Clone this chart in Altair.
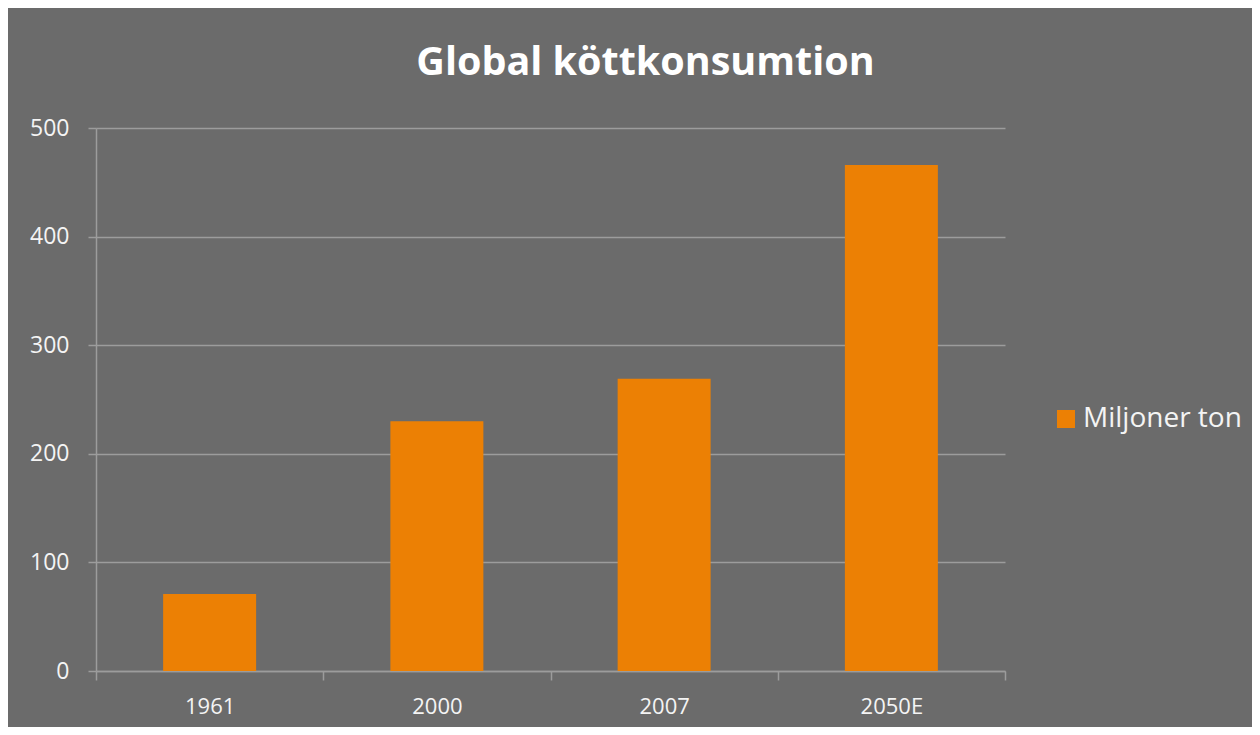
import altair as alt
import pandas as pd

years = ["1961", "2000", "2007", "2050E"]
values = [71, 230, 269, 466]
series = "Miljoner ton"
y_ticks = [0, 100, 200, 300, 400, 500]

df = pd.DataFrame({"year": years, "value": values, "series": [series] * len(years)})

FONT = "Open Sans"
BG = "#6b6b6b"
ORANGE = "#ec8004"
GRID = "#9c9c9c"
TEXT = "#f4f4f4"

chart = alt.Chart(df).mark_bar(width=93).encode(
    x=alt.X("year:N", sort=years,
            scale=alt.Scale(paddingInner=0, paddingOuter=0),
            axis=alt.Axis(title=None, labelAngle=0, tickBand="extent", grid=False,
                          domainColor=GRID, domainWidth=1.5, tickColor=GRID, tickWidth=1.5,
                          tickSize=9, labelPadding=16, labelFont=FONT, labelFontSize=22,
                          labelColor=TEXT)),
    y=alt.Y("value:Q", scale=alt.Scale(domain=[0, 500], nice=False),
            axis=alt.Axis(title=None, values=y_ticks, grid=True, gridColor=GRID, gridWidth=1.5,
                          domainColor=GRID, domainWidth=1.5, tickColor=GRID, tickWidth=1.5,
                          tickSize=8, labelPadding=19, labelFont=FONT, labelFontSize=23,
                          labelColor=TEXT)),
    color=alt.Color("series:N", scale=alt.Scale(range=[ORANGE]),
                    legend=alt.Legend(title=None, orient="none", legendX=956, legendY=277,
                                      symbolType="square", symbolSize=324, symbolStrokeWidth=0,
                                      symbolOpacity=1, labelFont=FONT, labelFontSize=28,
                                      labelColor=TEXT, labelOffset=3)),
).properties(
    width=909,
    height=543,
    background=BG,
    padding={"left": 88, "top": 120, "right": 247, "bottom": 56},
    autosize=alt.AutoSizeParams(type="none"),
    title=alt.TitleParams("Global köttkonsumtion", font=FONT, fontSize=39.5, fontWeight="bold",
                          color="white", anchor="middle", frame="group", dx=95,
                          baseline="alphabetic", offset=3),
).configure_view(stroke=None)

chart.save("out.html", embed_options={"renderer": "svg", "actions": False})
